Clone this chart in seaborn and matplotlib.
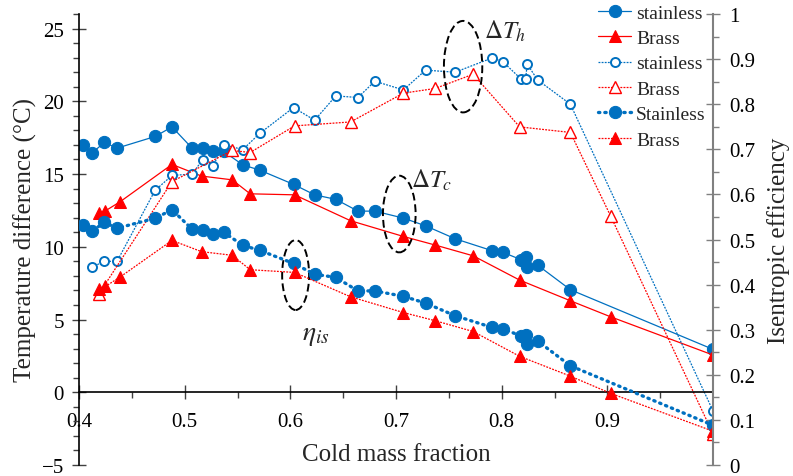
import matplotlib
matplotlib.use('Agg')
import matplotlib.pyplot as plt
from matplotlib.patches import Ellipse
from matplotlib.ticker import MultipleLocator, FixedLocator
import pandas as pd
import seaborn as sns

# stainless tube: cold mass fraction and measured values
ss_x = [0.404, 0.412, 0.424, 0.436, 0.472, 0.488, 0.507, 0.517, 0.527, 0.537,
        0.555, 0.571, 0.603, 0.623, 0.643, 0.664, 0.680, 0.707, 0.728, 0.756,
        0.791, 0.801, 0.8185, 0.8226, 0.8242, 0.834, 0.865, 1.000]
ss_dtc = [16.98, 16.43, 17.17, 16.78, 17.58, 18.24, 16.78, 16.78, 16.55, 16.55,
          15.63, 15.27, 14.29, 13.57, 13.26, 12.45, 12.45, 11.97, 11.44, 10.55,
          9.73, 9.62, 9.11, 9.27, 8.59, 8.74, 7.05, 2.95]
ss_dth = [8.59, 9.00, 9.00, 13.88, 14.9, 15.0, 15.98, 15.58, 17.02, 16.68,
          17.79, 19.57, 18.70, 20.37, 20.26, 21.38, 20.78, 22.14, 22.0,
          22.98, 22.73, 21.52, 21.52, 22.55, 21.47, 19.8, -1.28]
ss_eff = [0.532, 0.518, 0.538, 0.525, 0.547, 0.566, 0.523, 0.521, 0.513, 0.516,
          0.487, 0.476, 0.447, 0.423, 0.416, 0.386, 0.386, 0.374, 0.359, 0.331,
          0.305, 0.302, 0.286, 0.288, 0.268, 0.275, 0.220, 0.088]

# brass tube
br_x = [0.419, 0.425, 0.439, 0.488, 0.516, 0.545, 0.562, 0.604, 0.657, 0.707,
        0.737, 0.773, 0.817, 0.865, 0.903, 1.000]
br_dtc = [12.3, 12.47, 13.1, 15.66, 14.86, 14.6, 13.64, 13.57, 11.79, 10.71,
          10.12, 9.38, 7.71, 6.29, 5.19, 2.56]
br_dth_x = [0.419, 0.488, 0.545, 0.562, 0.604, 0.657, 0.707, 0.737, 0.773,
            0.817, 0.865, 0.903, 1.000]
br_dth = [6.78, 14.48, 16.62, 16.48, 18.31, 18.58, 20.56, 20.88, 21.86,
          18.24, 17.86, 12.13, -2.85]
br_eff = [0.391, 0.396, 0.417, 0.498, 0.473, 0.465, 0.433, 0.427, 0.373, 0.338,
          0.320, 0.296, 0.241, 0.197, 0.159, 0.075]

blue = '#0070C0'
red = '#FF0000'

sns.set_style('ticks')
plt.rcParams['font.family'] = ['Liberation Serif', 'DejaVu Serif']
plt.rcParams['mathtext.fontset'] = 'stix'

fig = plt.figure(figsize=(7.93, 4.77), dpi=100)
ax = fig.add_axes([79 / 793, 1 - 466 / 477, 634 / 793, 451 / 477])
ax2 = ax.twinx()

ss_dtc_df = pd.DataFrame({'x': ss_x, 'y': ss_dtc})
ss_dth_df = pd.DataFrame({'x': ss_x[1:], 'y': ss_dth})
ss_eff_df = pd.DataFrame({'x': ss_x, 'y': ss_eff})
br_dtc_df = pd.DataFrame({'x': br_x, 'y': br_dtc})
br_dth_df = pd.DataFrame({'x': br_dth_x, 'y': br_dth})
br_eff_df = pd.DataFrame({'x': br_x, 'y': br_eff})

sns.lineplot(data=ss_dtc_df, x='x', y='y', ax=ax, color=blue, lw=0.9,
             marker='o', ms=8.8, mec=blue, mfc=blue, estimator=None,
             label='stainless')
sns.lineplot(data=br_dtc_df, x='x', y='y', ax=ax, color=red, lw=0.9, alpha=1,
             marker='^', ms=9, mec=red, mfc=red, estimator=None, label='Brass')
sns.lineplot(data=ss_dth_df, x='x', y='y', ax=ax, color=blue, lw=0.9,
             linestyle=(0, (1.5, 1)), marker='o', ms=6.5, mec=blue, mew=1.4,
             mfc='white', estimator=None, label='stainless')
sns.lineplot(data=br_dth_df, x='x', y='y', ax=ax, color=red, lw=0.9,
             linestyle=(0, (1.5, 1)), marker='^', ms=8, mec=red, mew=1.0,
             mfc='white', estimator=None, label='Brass')
sns.lineplot(data=ss_eff_df, x='x', y='y', ax=ax2, color=blue, lw=2.4,
             linestyle=(0, (0.4, 1.5)), dash_capstyle='round', marker='o',
             ms=8.8, mec=blue, mfc=blue, estimator=None, label='Stainless')
sns.lineplot(data=br_eff_df, x='x', y='y', ax=ax2, color=red, lw=0.9,
             linestyle=(0, (1.5, 1)), marker='^', ms=9, mec=red, mfc=red,
             estimator=None, label='Brass')

for a in (ax, ax2):
    if a.get_legend() is not None:
        a.get_legend().remove()

ax.set_xlim(0.4, 1.0)
ax.set_ylim(-5, 26)
ax2.set_ylim(0, 1)

ax.spines['top'].set_visible(False)
ax.spines['right'].set_visible(False)
ax.spines['bottom'].set_position(('data', 0))
for s in ('left', 'bottom'):
    ax.spines[s].set_color('black')
    ax.spines[s].set_linewidth(1.2)
for s in ('left', 'top', 'bottom'):
    ax2.spines[s].set_visible(False)
ax2.spines['right'].set_color('#808080')
ax2.spines['right'].set_linewidth(1.5)

ax.xaxis.set_major_locator(FixedLocator([0.4, 0.5, 0.6, 0.7, 0.8, 0.9]))
ax.xaxis.set_minor_locator(FixedLocator([0.45, 0.55, 0.65, 0.75, 0.85, 0.95]))
ax.set_xticklabels(['0.4', '0.5', '0.6', '0.7', '0.8', '0.9'])
ax.yaxis.set_major_locator(FixedLocator([-5, 0, 5, 10, 15, 20, 25]))
ax.yaxis.set_minor_locator(MultipleLocator(1))
ax2.yaxis.set_minor_locator(MultipleLocator(0.05))
ax2.set_yticks([i / 10 for i in range(11)])
ax2.set_yticklabels(['0', '0.1', '0.2', '0.3', '0.4', '0.5', '0.6', '0.7',
                     '0.8', '0.9', '1'])

ax.tick_params(axis='both', which='major', direction='inout', length=10,
               width=1, color='#404040', labelsize=15, labelcolor='black')
ax.tick_params(axis='both', which='minor', direction='out', length=4.5,
               width=1, color='#404040')
ax.tick_params(axis='x', which='major', pad=9)
ax.tick_params(axis='y', which='major', pad=6)
ax2.tick_params(axis='y', which='major', direction='inout', length=10,
                width=1, color='#808080', labelsize=15, labelcolor='black',
                pad=7)
ax2.tick_params(axis='y', which='minor', direction='out', length=4.5,
                width=1, color='#808080')

ax.set_xlabel('Cold mass fraction', fontsize=18, labelpad=9)
ax.set_ylabel('Temperature difference (°C)', fontsize=18, labelpad=3)
ax2.set_ylabel('Isentropic efficiency', fontsize=18, labelpad=8)

# dashed ellipses marking the three groups
for cx, cy, w, h in [(0.7635, 22.38, 0.0363, 6.29),
                     (0.7031, 12.25, 0.0309, 5.27),
                     (0.605, 8.06, 0.0255, 4.81)]:
    ax.add_patch(Ellipse((cx, cy), w, h, fill=False, ec='black',
                         ls=(0, (4, 2)), lw=1.4, zorder=5))
ax.text(0.7829, 24.9, r'$\Delta T_h$', fontsize=18, va='center')
ax.text(0.7138, 14.65, r'$\Delta T_c$', fontsize=18, va='center')
ax.text(0.6107, 4.0, r'$\eta_{is}$', fontsize=20, va='center')

h1, l1 = ax.get_legend_handles_labels()
h2, l2 = ax2.get_legend_handles_labels()
fig.legend(h1 + h2, l1 + l2, loc='upper left',
           bbox_to_anchor=(598 / 793, 1 - 5 / 477), frameon=False,
           fontsize=14, handlelength=1.7, handletextpad=0.25,
           labelspacing=0.4, borderpad=0, borderaxespad=0)

fig.savefig('out.png', dpi=100)
